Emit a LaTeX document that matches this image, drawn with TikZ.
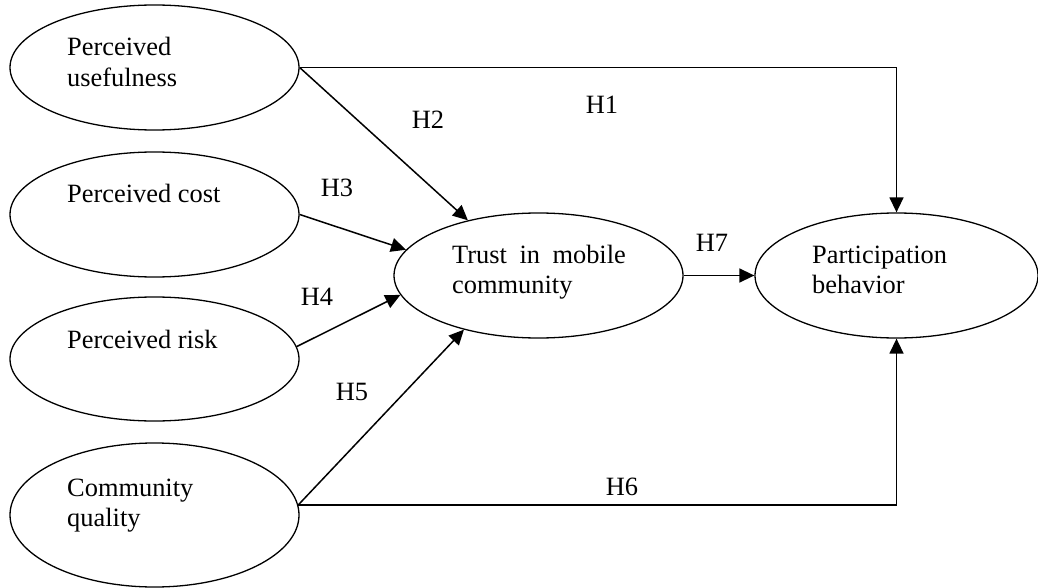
\documentclass[tikz,border=0pt]{standalone}
\usepackage{fontspec}
\setmainfont{Liberation Serif}
\usetikzlibrary{shapes.geometric,arrows.meta}

\tikzset{
  construct/.style={draw, ellipse, line width=1.3pt, inner sep=0pt,
    minimum width=289pt, minimum height=125pt},
  caption/.style={anchor=base west, inner sep=0pt,
    font=\fontsize{26.4}{30.5}\selectfont},
  hyp/.style={inner sep=0pt, font=\fontsize{26.4}{30.5}\selectfont},
  path/.style={line width=1.5pt, -{Triangle[length=15pt,width=14pt]}}
}

\begin{document}
\begin{tikzpicture}[x=1pt, y=-1pt]
  \useasboundingbox (0,0) rectangle (1038,588);

  % latent constructs
  \node[construct] (pu) at (154.5,67.5) {};
  \node[construct] (pc) at (154.5,214.5) {};
  \node[construct, minimum height=124pt] (pr) at (154.5,359) {};
  \node[construct, minimum height=144pt] (cq) at (154.5,515) {};
  \node[construct] (tr) at (538.5,275.5) {};
  \node[construct, minimum width=283pt] (pb) at (896.5,275.5) {};

  % construct names, one node per line
  \node[caption] (pu-a) at (67,56) {Perceived};
  \node[caption] (pu-b) at (67,87) {usefulness};
  \node[caption] (pc-a) at (67,202) {Perceived cost};
  \node[caption] (pr-a) at (67,348) {Perceived risk};
  \node[caption] (cq-a) at (67,496) {Community};
  \node[caption] (cq-b) at (67,526) {quality};
  \node[caption] (tr-a) at (452,263) {Trust\hspace{12.5pt}in\hspace{12.5pt}mobile};
  \node[caption] (tr-b) at (452,293) {community};
  \node[caption] (pb-a) at (812,263) {Participation};
  \node[caption] (pb-b) at (812,293) {behavior};

  % hypothesised paths
  \draw[path] (pu.east) -- (pb.north |- pu.east) -- (pb.north);
  \draw[path] (pu.east) -- (tr.142);
  \draw[path] (pc.east) -- (tr.169.5);
  \draw[path] (pr.5) -- (tr.188.7);
  \draw[path] (cq.4) -- (tr.216);
  \draw[path] (cq.4) -- (pb.south |- cq.4) -- (pb.south);
  \draw[path] (tr.east) -- (pb.west);

  % path labels
  \node[hyp] (h1) at (602,105) {H1};
  \node[hyp] (h2) at (428,120) {H2};
  \node[hyp] (h3) at (337,188) {H3};
  \node[hyp] (h4) at (317,297) {H4};
  \node[hyp] (h5) at (352,392) {H5};
  \node[hyp] (h6) at (622,487) {H6};
  \node[hyp] (h7) at (712,243) {H7};
\end{tikzpicture}
\end{document}
